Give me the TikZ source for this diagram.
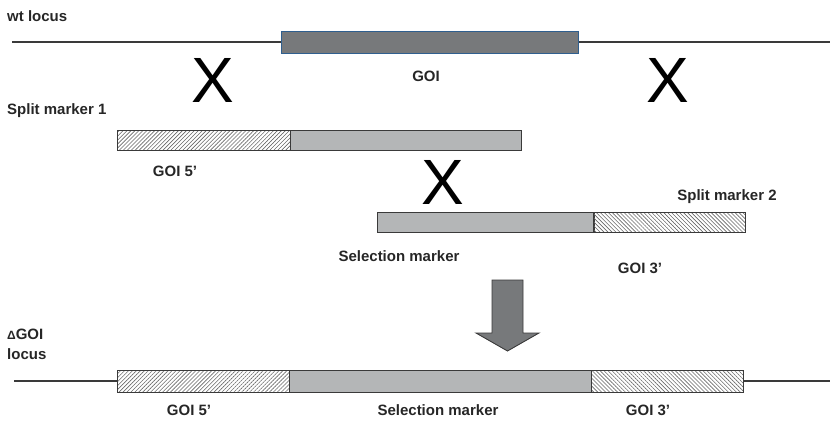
\documentclass[tikz,border=0pt]{standalone}
\usepackage{fontspec}
\setmainfont{Liberation Sans}
\usetikzlibrary{patterns.meta}
\definecolor{goifill}{HTML}{77797B}
\definecolor{goiedge}{HTML}{2F5F8F}
\definecolor{barfill}{HTML}{B4B6B7}
\definecolor{edge}{HTML}{3A3A3A}
\definecolor{hatchc}{HTML}{686868}
\tikzset{
  lab/.style={font=\fontsize{15}{17}\selectfont\bfseries, text=black!85, inner sep=0pt},
  cross/.style={font=\fontsize{64}{64}\selectfont, inner sep=0pt},
  seg/.style={draw=edge, line width=0.9pt, inner sep=0pt, outer sep=0pt},
  grayseg/.style={seg, fill=barfill},
  hatchA/.style={seg, fill=white, pattern={Lines[angle=45,distance=2.8pt,line width=0.6pt]}, pattern color=hatchc},
  hatchB/.style={seg, fill=white, pattern={Lines[angle=-45,distance=2.8pt,line width=0.6pt]}, pattern color=hatchc},
  dna/.style={draw=edge, line width=1.3pt},
}
\begin{document}
\begin{tikzpicture}[x=1pt,y=-1pt]
\useasboundingbox (0,0) rectangle (830,424);
% wt locus
\node[lab, anchor=west] (wt) at (7,16) {wt locus};
\coordinate (wtL) at (12,42);
\coordinate (wtR) at (830,42);
\node[draw=goiedge, fill=goifill, line width=1pt, inner sep=0pt, minimum width=297, minimum height=22] (goi) at (429.5,42) {};
\draw[dna] (wtL) -- (goi.west);
\draw[dna] (goi.east) -- (wtR);
\node[lab] (goilab) at (426,76) {GOI};
\node[cross] (x1) at (213,80) {X};
\node[cross] (x2) at (668,80) {X};
% split marker 1
\node[lab, anchor=west] (sm1) at (7,111) {Split marker 1};
\node[hatchA, minimum width=173, minimum height=20] (s1a) at (203.5,140) {};
\node[grayseg, minimum width=231, minimum height=20] (s1b) at (405.5,140) {};
\node[lab] (g5a) at (175,171) {GOI 5'};
\node[cross] (x3) at (443,182) {X};
% split marker 2
\node[lab] (sm2) at (727,197) {Split marker 2};
\node[grayseg, minimum width=217, minimum height=20] (s2a) at (485.5,222) {};
\node[hatchB, minimum width=152, minimum height=20] (s2b) at (669.5,222) {};
\node[lab] (selA) at (399,256) {Selection marker};
\node[lab] (g3a) at (640,268) {GOI 3'};
% arrow
\draw[draw=edge, fill=goifill, line width=0.9pt, line join=miter]
  (492,280) -- (523,280) -- (523,333) -- (539,333) -- (507.5,351) -- (476,333) -- (492,333) -- cycle;
% delta GOI locus
\node[lab, anchor=west] (dl1) at (7,334) {{\fontsize{12}{14}\selectfont Δ}GOI};
\node[lab, anchor=west] (dl2) at (7,354) {locus};
\coordinate (dL) at (14,381);
\coordinate (dR) at (830,381);
\node[hatchA, minimum width=172, minimum height=22] (d1) at (203,381) {};
\node[grayseg, minimum width=302, minimum height=22] (d2) at (440,381) {};
\node[hatchB, minimum width=152, minimum height=22] (d3) at (667,381) {};
\draw[dna] (dL) -- (d1.west);
\draw[dna] (d3.east) -- (dR);
\node[lab] (g5b) at (189,410) {GOI 5'};
\node[lab] (selB) at (438,410) {Selection marker};
\node[lab] (g3b) at (648,410) {GOI 3'};
\end{tikzpicture}
\end{document}
